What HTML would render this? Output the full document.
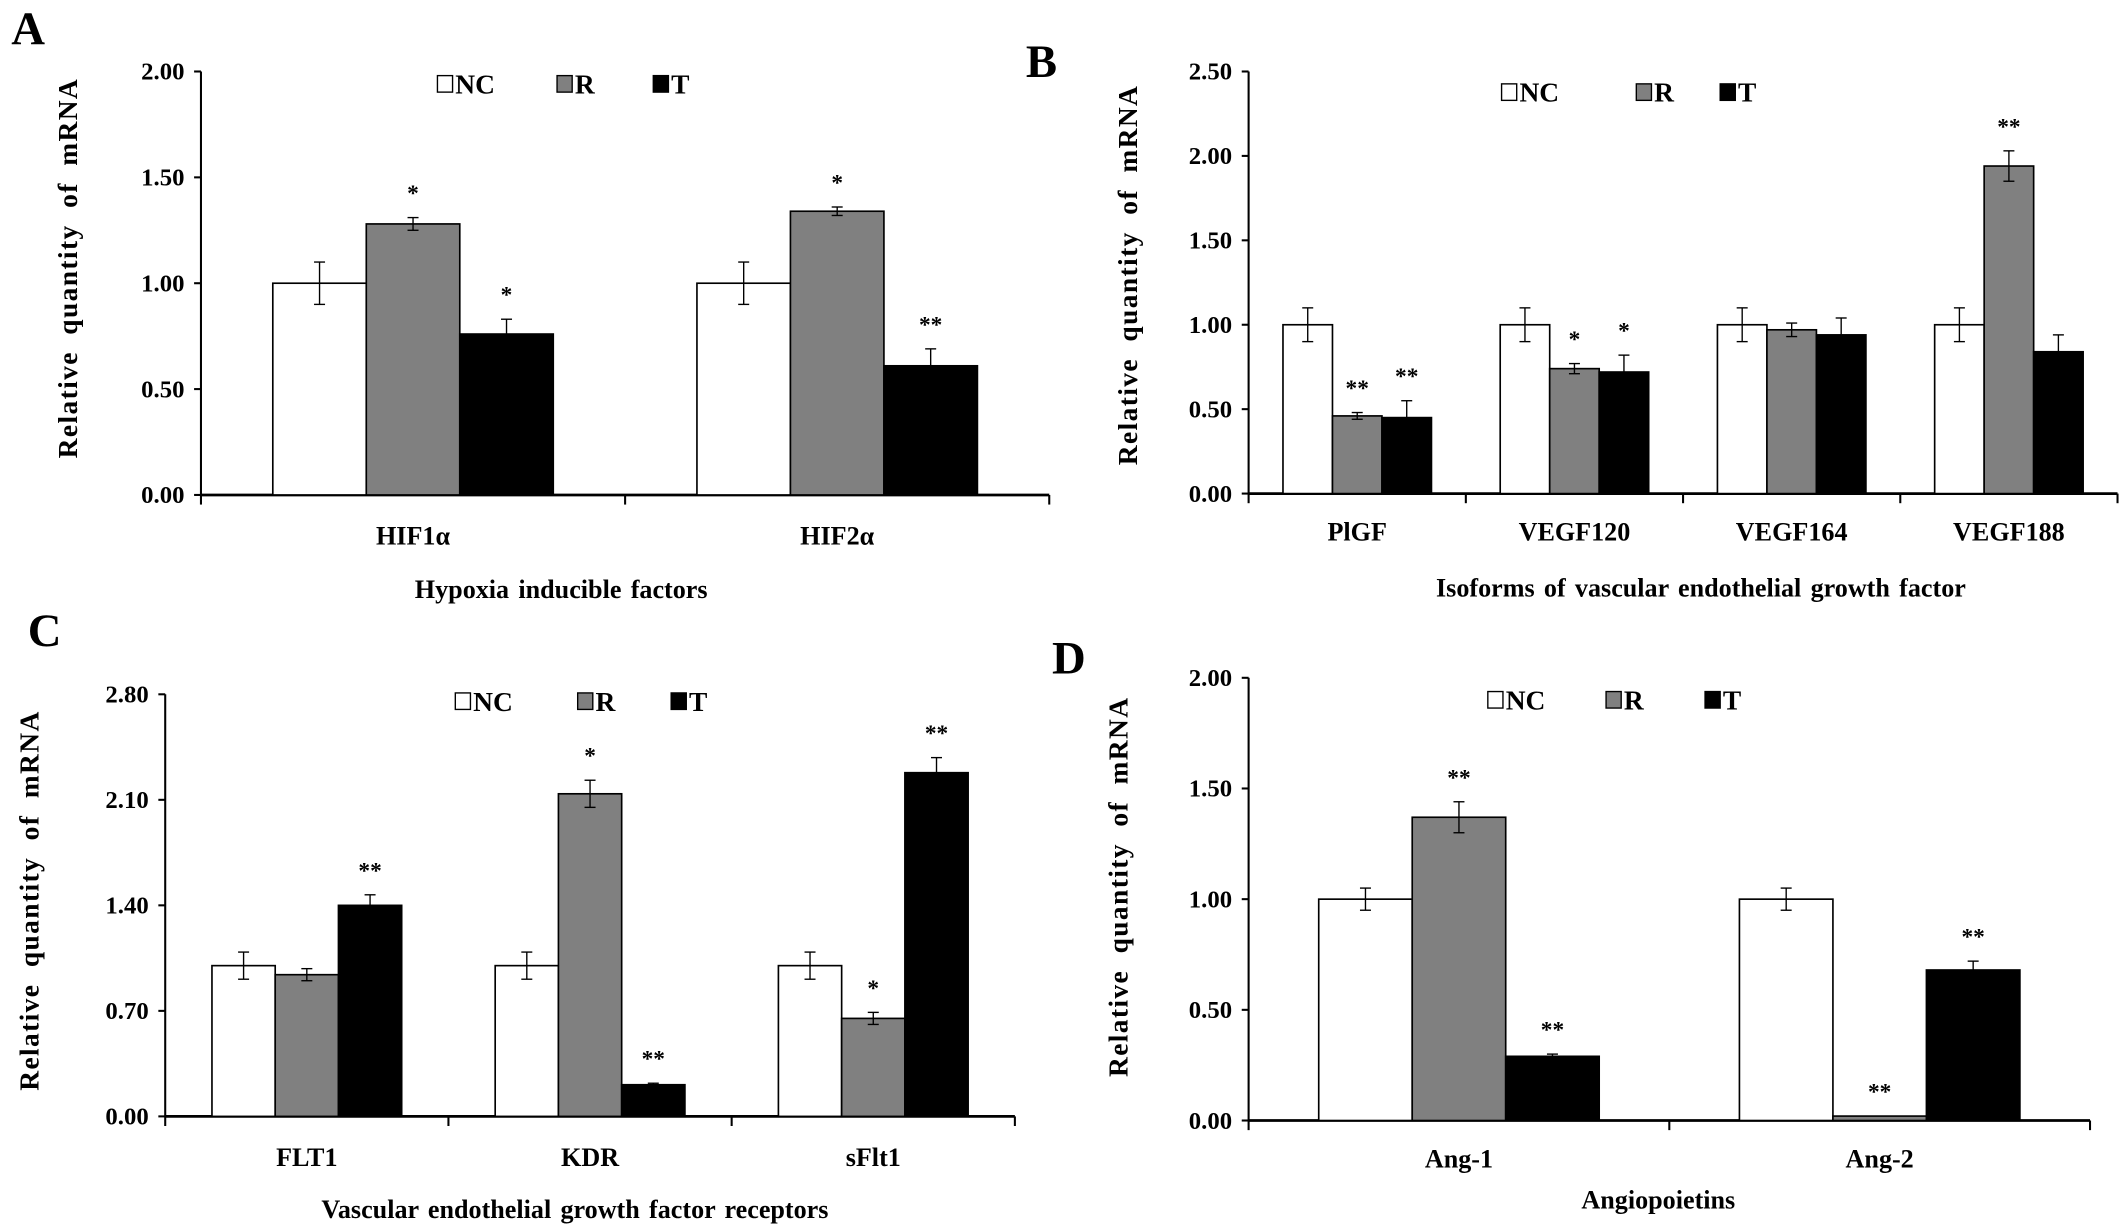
<!DOCTYPE html>
<html><head><meta charset="utf-8"><style>
html,body{margin:0;padding:0;background:#fff;}
svg{display:block;}
text{font-family:"Liberation Serif",serif;font-weight:bold;fill:#000;}
</style></head><body>
<svg id="fig" width="2126" height="1225" viewBox="0 0 1546 891" xmlns="http://www.w3.org/2000/svg"></svg>
<script>
// Panel A data
const catsA = ["HIF1α","HIF2α"];
const ncA = [1.0,1.0], ncErrA = [0.1,0.1];
const rA = [1.28,1.34], rErrA = [0.03,0.02];
const tA = [0.76,0.61], tErrA = [0.07,0.08];
const rStarA = ["*","*"], tStarA = ["*","**"];
const ticksA = ["0.00","0.50","1.00","1.50","2.00"];
// Panel B data
const catsB = ["PlGF","VEGF120","VEGF164","VEGF188"];
const ncB = [1.0,1.0,1.0,1.0], ncErrB = [0.1,0.1,0.1,0.1];
const rB = [0.46,0.74,0.97,1.94], rErrB = [0.02,0.03,0.04,0.09];
const tB = [0.45,0.72,0.94,0.84], tErrB = [0.1,0.1,0.1,0.1];
const rStarB = ["**","*","","**"], tStarB = ["**","*","",""];
const ticksB = ["0.00","0.50","1.00","1.50","2.00","2.50"];
// Panel C data
const catsC = ["FLT1","KDR","sFlt1"];
const ncC = [1.0,1.0,1.0], ncErrC = [0.09,0.09,0.09];
const rC = [0.94,2.14,0.65], rErrC = [0.04,0.09,0.04];
const tC = [1.4,0.21,2.28], tErrC = [0.07,0.01,0.1];
const rStarC = ["","*","*"], tStarC = ["**","**","**"];
const ticksC = ["0.00","0.70","1.40","2.10","2.80"];
// Panel D data
const catsD = ["Ang-1","Ang-2"];
const ncD = [1.0,1.0], ncErrD = [0.05,0.05];
const rD = [1.37,0.02], rErrD = [0.07,0];
const tD = [0.29,0.68], tErrD = [0.01,0.04];
const rStarD = ["**","**"], tStarD = ["**","**"];
const ticksD = ["0.00","0.50","1.00","1.50","2.00"];

const svg = document.getElementById('fig');
const NS = "http://www.w3.org/2000/svg";
function mk(tag, attrs, parent){
  const e = document.createElementNS(NS, tag);
  for (const k in attrs) e.setAttribute(k, attrs[k]);
  (parent||svg).appendChild(e); return e;
}
function txt(s, x, y, size, parent, anchor){
  const t = mk('text', {x:x, y:y, 'font-size':size, 'text-anchor':anchor||'middle'}, parent);
  t.textContent = s; return t;
}
function panel(id, p, cats, series, ticks, letter){
  const g = mk('g', {});
  
  
  const max = parseFloat(ticks[ticks.length-1]);
  const y = v => p.y0 - (v/max)*(p.y0-p.y1);
  const n = cats.length, gw = (p.x1-p.x0)/n;
  const bw = p.bw, off = (gw - 3*bw)/2;
  const ya = mk('line', {x1:p.x0, y1:p.y1, x2:p.x0, y2:p.y0, stroke:'#000','stroke-width':1.5}, g);
  
  
  ticks.forEach((tk,i)=>{
    const v = parseFloat(tk), yy = y(v);
    mk('line', {x1:p.x0-5, y1:yy, x2:p.x0, y2:yy, stroke:'#000','stroke-width':1.5}, g);
    const t = txt(tk, p.x0-12, yy+6, 18, g, 'end');
    
    
  });
  const xa = mk('line', {x1:p.x0, y1:p.y0, x2:p.x1, y2:p.y0, stroke:'#000','stroke-width':2}, g);
  
  
  for (let i=0;i<=n;i++){
    mk('line', {x1:p.x0+i*gw, y1:p.y0, x2:p.x0+i*gw, y2:p.y0+7, stroke:'#000','stroke-width':1.5}, g);
  }
  const fills = ['#fff','#808080','#000'];
  const names = ['nc','r','t'];
  cats.forEach((c,i)=>{
    series.forEach((s,k)=>{
      const v = s.vals[i], e = s.errs[i];
      const bx = p.x0 + i*gw + off + k*bw;
      const r = mk('rect', {x:bx, y:y(v), width:bw, height:p.y0-y(v), fill:fills[k], stroke:'#000','stroke-width':1.2}, g);
      
      
      const cx = bx + bw/2;
      if (e>0){
        mk('line', {x1:cx, y1:y(v+e), x2:cx, y2:y(v-e), stroke:'#000','stroke-width':1}, g);
        mk('line', {x1:cx-4, y1:y(v+e), x2:cx+4, y2:y(v+e), stroke:'#000','stroke-width':1}, g);
        mk('line', {x1:cx-4, y1:y(v-e), x2:cx+4, y2:y(v-e), stroke:'#000','stroke-width':1}, g);
      }
      const st = s.stars ? s.stars[i] : '';
      if (st){
        const t = txt(st, cx, y(v+e)-12, 17, g);
        
        
      }
    });
    const cl = txt(c, p.x0 + i*gw + gw/2, p.catY, 19, g);
    
    
  });
  const xt = txt(p.title, p.titleX, p.titleY, 19, g);
  xt.setAttribute('word-spacing', '2');
  
  
  const yt = txt('Relative quantity of mRNA', 0, 0, 20, g);
  yt.setAttribute('transform', 'translate(' + p.ylX + ',' + p.ylY + ') rotate(-90)');
  yt.setAttribute('word-spacing', '6');
  yt.setAttribute('letter-spacing', '1');
  
  
  const lab = ['NC','R','T'];
  p.leg.forEach((lx,k)=>{
    const lg = mk('g', {}, g);
    
    
    mk('rect', {x:lx, y:p.legY-13, width:11, height:12, fill:fills[k], stroke:'#000','stroke-width':1}, lg);
    txt(lab[k], lx+13, p.legY, 20, lg, 'start');
  });
  const L = txt(letter, p.lx, p.ly, 34, g, 'start');
  
  
}
panel('a', {x0:146,x1:763,y0:360,y1:52,bw:68,catY:396,title:'Hypoxia  inducible  factors',titleX:408,titleY:435,ylX:56,ylY:195,leg:[318,405,475],legY:68,lx:8,ly:32},
  catsA, [{vals:ncA,errs:ncErrA},{vals:rA,errs:rErrA,stars:rStarA},{vals:tA,errs:tErrA,stars:tStarA}], ticksA, 'A');
panel('b', {x0:908,x1:1540,y0:359,y1:52,bw:36,catY:393,title:'Isoforms  of vascular  endothelial  growth  factor',titleX:1237,titleY:434,ylX:827,ylY:200,leg:[1092,1190,1251],legY:74,lx:746,ly:56},
  catsB, [{vals:ncB,errs:ncErrB},{vals:rB,errs:rErrB,stars:rStarB},{vals:tB,errs:tErrB,stars:tStarB}], ticksB, 'B');
panel('c', {x0:120,x1:738,y0:812,y1:505,bw:46,catY:848,title:'Vascular  endothelial  growth  factor  receptors',titleX:418,titleY:886,ylX:28,ylY:655,leg:[331,420,488],legY:517,lx:20,ly:470},
  catsC, [{vals:ncC,errs:ncErrC},{vals:rC,errs:rErrC,stars:rStarC},{vals:tC,errs:tErrC,stars:tStarC}], ticksC, 'C');
panel('d', {x0:908,x1:1520,y0:815,y1:493,bw:68,catY:849,title:'Angiopoietins',titleX:1206,titleY:879,ylX:820,ylY:645,leg:[1082,1168,1240],legY:516,lx:765,ly:490},
  catsD, [{vals:ncD,errs:ncErrD},{vals:rD,errs:rErrD,stars:rStarD},{vals:tD,errs:tErrD,stars:tStarD}], ticksD, 'D');
</script>
</body></html>
